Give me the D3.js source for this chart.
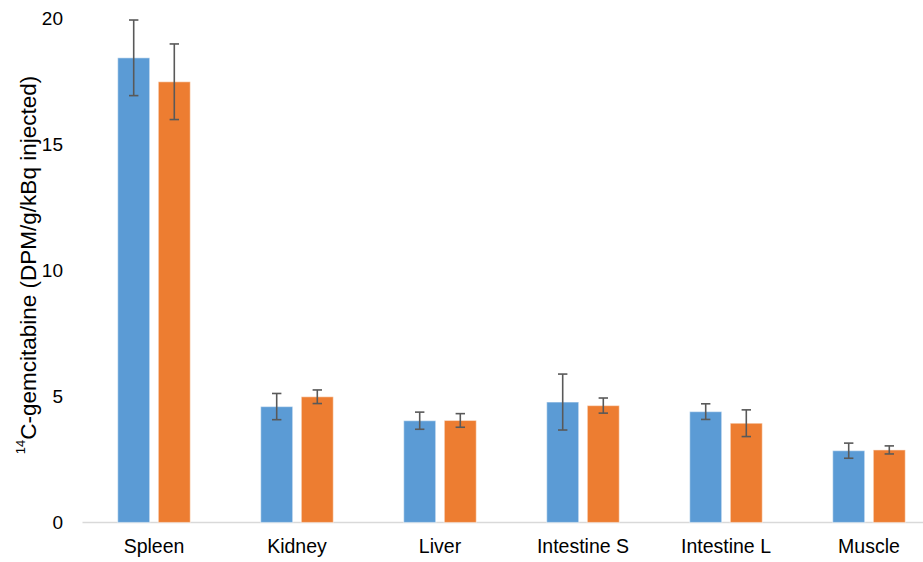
<!DOCTYPE html>
<html>
<head>
<meta charset="utf-8">
<script src="https://cdn.jsdelivr.net/npm/d3@7"></script>
<style>
  body { margin: 0; background: #fff; }
  svg { display: block; font-family: "Liberation Sans", Arial, sans-serif; }
</style>
</head>
<body>
<div id="chart"></div>
<script>
// tissue categories and two series (mean + error)
const categories = ["Spleen", "Kidney", "Liver", "Intestine S", "Intestine L", "Muscle"];
const seriesA = [18.44, 4.60, 4.04, 4.78, 4.40, 2.85];
const errorsA = [1.50, 0.52, 0.34, 1.11, 0.31, 0.30];
const seriesB = [17.49, 4.99, 4.05, 4.64, 3.94, 2.88];
const errorsB = [1.50, 0.27, 0.27, 0.30, 0.53, 0.16];
const yTicks = [0, 5, 10, 15, 20];

const colors = ["#5B9BD5", "#ED7D31"];

const width = 923, height = 562;
const margin = { top: 18.5, right: -17.5, bottom: 39.5, left: 82.5 };

const svg = d3.select("#chart")
  .append("svg")
  .attr("width", width)
  .attr("height", height);

const x = d3.scaleBand()
  .domain(categories)
  .range([margin.left, width - margin.right]);

const y = d3.scaleLinear()
  .domain([0, 20])
  .range([height - margin.bottom, margin.top]);

const barW = 32, gap = 8.6;

const rows = categories.map((c, i) => ({
  cat: c,
  vals: [
    { s: 0, v: seriesA[i], e: errorsA[i] },
    { s: 1, v: seriesB[i], e: errorsB[i] }
  ]
}));

// x axis line
svg.append("line")
  .attr("x1", margin.left).attr("x2", width)
  .attr("y1", y(0)).attr("y2", y(0))
  .attr("stroke", "#D9D9D9")
  .attr("stroke-width", 1.5);

// y tick labels
svg.selectAll(".ytick")
  .data(yTicks)
  .enter().append("text")
  .attr("x", 63)
  .attr("y", d => y(d))
  .attr("dy", "0.35em")
  .attr("text-anchor", "end")
  .attr("font-size", 19)
  .attr("fill", "#000")
  .text(d => d);

// x labels
svg.selectAll(".xlabel")
  .data(categories)
  .enter().append("text")
  .attr("x", d => x(d) + x.bandwidth() / 2)
  .attr("y", 552.5)
  .attr("text-anchor", "middle")
  .attr("font-size", 19.5)
  .attr("fill", "#000")
  .text(d => d);

// bars
const groups = svg.selectAll(".grp")
  .data(rows)
  .enter().append("g")
  .attr("transform", d => `translate(${x(d.cat) + x.bandwidth() / 2},0)`);

const bx = s => s === 0 ? -(gap / 2 + barW) : gap / 2;

groups.selectAll("rect")
  .data(d => d.vals)
  .enter().append("rect")
  .attr("x", d => bx(d.s))
  .attr("y", d => y(d.v))
  .attr("width", barW)
  .attr("height", d => y(0) - y(d.v))
  .attr("fill", d => colors[d.s])
  .attr("stroke", "#fff")
  .attr("stroke-opacity", 0.45)
  .attr("stroke-width", 1.2);

// error bars
const eb = groups.selectAll(".err")
  .data(d => d.vals)
  .enter().append("g")
  .attr("stroke", "#595959")
  .attr("stroke-width", 1.6);

eb.append("line")
  .attr("x1", d => bx(d.s) + barW / 2).attr("x2", d => bx(d.s) + barW / 2)
  .attr("y1", d => y(d.v + d.e)).attr("y2", d => y(d.v - d.e));
eb.append("line")
  .attr("x1", d => bx(d.s) + barW / 2 - 4.7).attr("x2", d => bx(d.s) + barW / 2 + 4.7)
  .attr("y1", d => y(d.v + d.e)).attr("y2", d => y(d.v + d.e));
eb.append("line")
  .attr("x1", d => bx(d.s) + barW / 2 - 4.7).attr("x2", d => bx(d.s) + barW / 2 + 4.7)
  .attr("y1", d => y(d.v - d.e)).attr("y2", d => y(d.v - d.e));

// y axis title
const title = svg.append("text")
  .attr("transform", `translate(31,265) rotate(-90)`)
  .attr("text-anchor", "middle")
  .attr("font-size", 22.5)
  .attr("fill", "#000");
title.append("tspan").attr("font-size", 13).attr("dy", "-0.5em").text("14");
title.append("tspan").attr("dy", "0.5em").text("C-gemcitabine (DPM/g/kBq injected)");
</script>
</body>
</html>
